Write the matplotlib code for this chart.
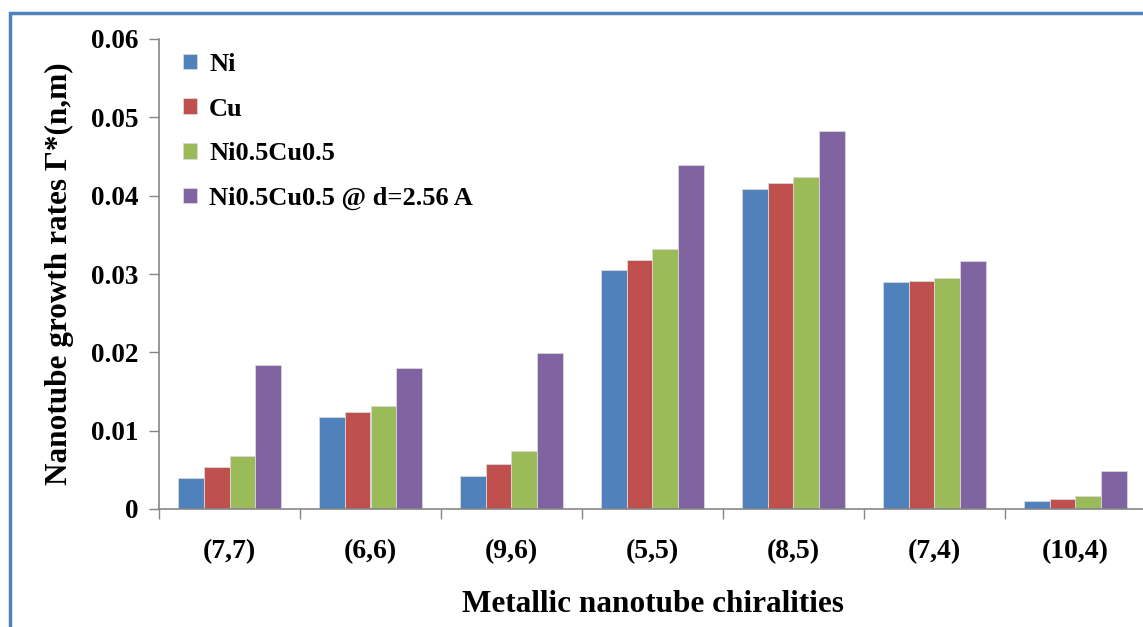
import matplotlib
matplotlib.use("Agg")
import matplotlib.pyplot as plt
import numpy as np
from matplotlib.patches import Rectangle

categories = ["(7,7)", "(6,6)", "(9,6)", "(5,5)", "(8,5)", "(7,4)", "(10,4)"]
series_names = ["Ni", "Cu", "Ni0.5Cu0.5", "Ni0.5Cu0.5 @ d=2.56 A"]
ni = [0.0039, 0.0118, 0.0042, 0.0305, 0.0409, 0.0290, 0.0010]
cu = [0.0053, 0.0124, 0.0057, 0.0318, 0.0416, 0.0291, 0.0013]
nicu = [0.0068, 0.0131, 0.0074, 0.0332, 0.0424, 0.0295, 0.0017]
nicu_d = [0.0184, 0.0180, 0.0199, 0.0439, 0.0483, 0.0316, 0.0048]
colors = ["#4F81BD", "#C0504D", "#9BBB59", "#8064A2"]
yticks = [0, 0.01, 0.02, 0.03, 0.04, 0.05, 0.06]
ytick_labels = ["0", "0.01", "0.02", "0.03", "0.04", "0.05", "0.06"]

W, H = 1143, 627
fig = plt.figure(figsize=(W / 100, H / 100), dpi=100)
fig.patch.set_facecolor("white")

# blue outer frame
fig.patches.append(Rectangle((10 / W, -0.05), 1.1, 1 - 13 / H + 0.05,
                             transform=fig.transFigure, fill=False,
                             edgecolor="#4F81BD", linewidth=2.5, zorder=0))

ax = fig.add_axes([159 / W, 1 - 509 / H, (1146 - 159) / W, (509 - 39) / H])

font = "Liberation Serif"
x = np.arange(len(categories))
bw = 0.182
data = [ni, cu, nicu, nicu_d]
for i, (vals, c, name) in enumerate(zip(data, colors, series_names)):
    ax.bar(x + (i - 1.5) * bw, vals, bw, color=c, label=name,
           edgecolor="#D9D9D9", linewidth=0.6, zorder=2)

ax.set_xlim(-0.5, len(categories) - 0.5)
ax.set_ylim(0, 0.06)
ax.set_yticks(yticks)
ax.set_yticklabels(ytick_labels, fontfamily=font, fontweight="bold", fontsize=19.5)
ax.set_xticks(x)
ax.set_xticklabels(categories, fontfamily=font, fontweight="bold", fontsize=20)
ax.set_xticks(np.arange(-0.5, len(categories) + 0.5, 1), minor=True)
ax.tick_params(axis="x", which="major", length=0, pad=22)
ax.tick_params(axis="x", which="minor", length=7, color="#868686", width=1)
ax.tick_params(axis="y", length=7, color="#868686", width=1, pad=8)

for s in ["top", "right"]:
    ax.spines[s].set_visible(False)
for s in ["left", "bottom"]:
    ax.spines[s].set_color("#868686")
    ax.spines[s].set_linewidth(1.2)

ax.set_ylabel("Nanotube growth rates Γ*(n,m)", fontfamily=font,
              fontweight="bold", fontsize=22.5, labelpad=12)
ax.set_xlabel("Metallic nanotube chiralities", fontfamily=font,
              fontweight="bold", fontsize=22.5, labelpad=18)

leg = ax.legend(loc="upper left", bbox_to_anchor=(0.0, 1.021), frameon=False,
                prop={"family": font, "weight": "bold", "size": 19},
                handlelength=0.55, handleheight=0.55, handletextpad=0.45,
                labelspacing=0.82)

fig.savefig("out.png", dpi=100)
